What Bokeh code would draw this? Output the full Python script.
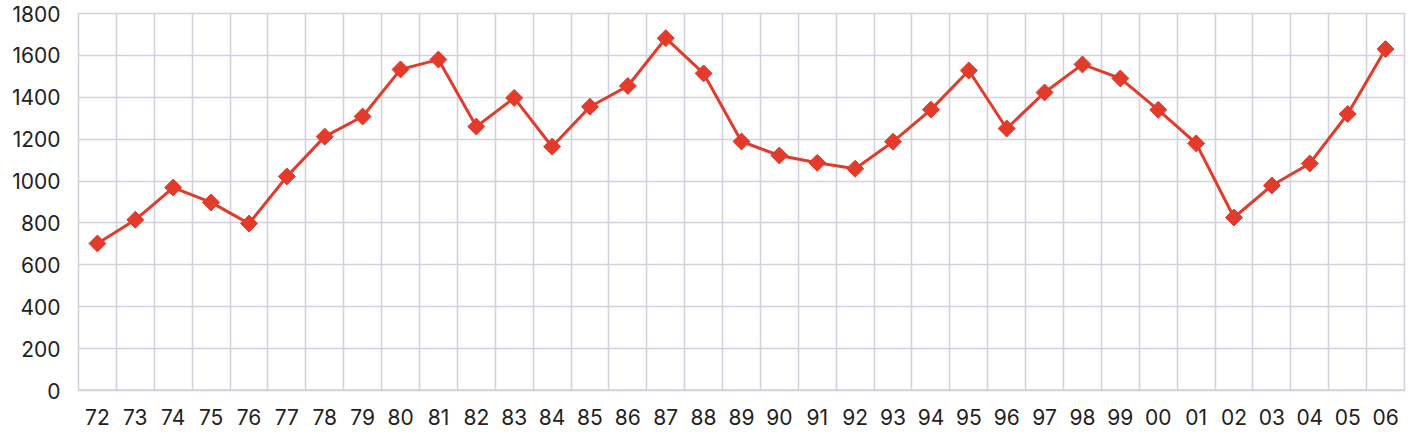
from bokeh.plotting import figure
from bokeh.models import FixedTicker, Range1d, ColumnDataSource
from bokeh.embed import file_html
from bokeh.resources import INLINE
import math

years = ["72", "73", "74", "75", "76", "77", "78", "79", "80", "81", "82", "83",
         "84", "85", "86", "87", "88", "89", "90", "91", "92", "93", "94", "95",
         "96", "97", "98", "99", "00", "01", "02", "03", "04", "05", "06"]
values = [702, 815, 969, 898, 797, 1022, 1212, 1308, 1533, 1580, 1260, 1397,
          1164, 1355, 1454, 1682, 1514, 1189, 1122, 1087, 1059, 1188, 1341, 1528,
          1251, 1423, 1557, 1490, 1340, 1180, 826, 979, 1084, 1320, 1630]
y_ticks = [0, 200, 400, 600, 800, 1000, 1200, 1400, 1600, 1800]

n = len(years)
xs = [i + 0.5 for i in range(n)]
src = ColumnDataSource(dict(x=xs, y=values, label=years))

FONT = "Inter"
RED = "#e33b2b"
GRID = "#d2d2de"

p = figure(width=1409, height=429, output_backend="svg", toolbar_location=None,
           x_range=Range1d(0, n), y_range=Range1d(0, 1800),
           min_border_left=78, min_border_right=5, min_border_top=13, min_border_bottom=39)
p.outline_line_color = GRID
p.outline_line_width = 1.6
p.background_fill_color = "white"

p.line("x", "y", source=src, line_color=RED, line_width=3)
p.scatter("x", "y", source=src, marker="square", size=12, angle=math.pi / 4,
          fill_color=RED, line_color=RED)

# axes
p.xaxis.ticker = FixedTicker(ticks=xs)
p.xaxis.major_label_overrides = {x: lab for x, lab in zip(xs, years)}
p.yaxis.ticker = FixedTicker(ticks=y_ticks)
for ax in (p.xaxis[0], p.yaxis[0]):
    ax.axis_line_color = None
    ax.major_tick_line_color = None
    ax.minor_tick_line_color = None
    ax.major_label_text_font = FONT
    ax.major_label_text_font_size = "21px"
    ax.major_label_text_color = "#222222"
    ax.major_label_standoff = 12

p.xgrid.ticker = FixedTicker(ticks=list(range(0, n + 1)))
p.ygrid.ticker = FixedTicker(ticks=y_ticks)
for g in (p.xgrid[0], p.ygrid[0]):
    g.grid_line_color = GRID
    g.grid_line_width = 1.6

# baseline
p.segment(x0=[0], y0=[0], x1=[n], y1=[0], line_color="#d0d0d8", line_width=2.5)

open("out.html", "w").write(file_html(p, INLINE))
